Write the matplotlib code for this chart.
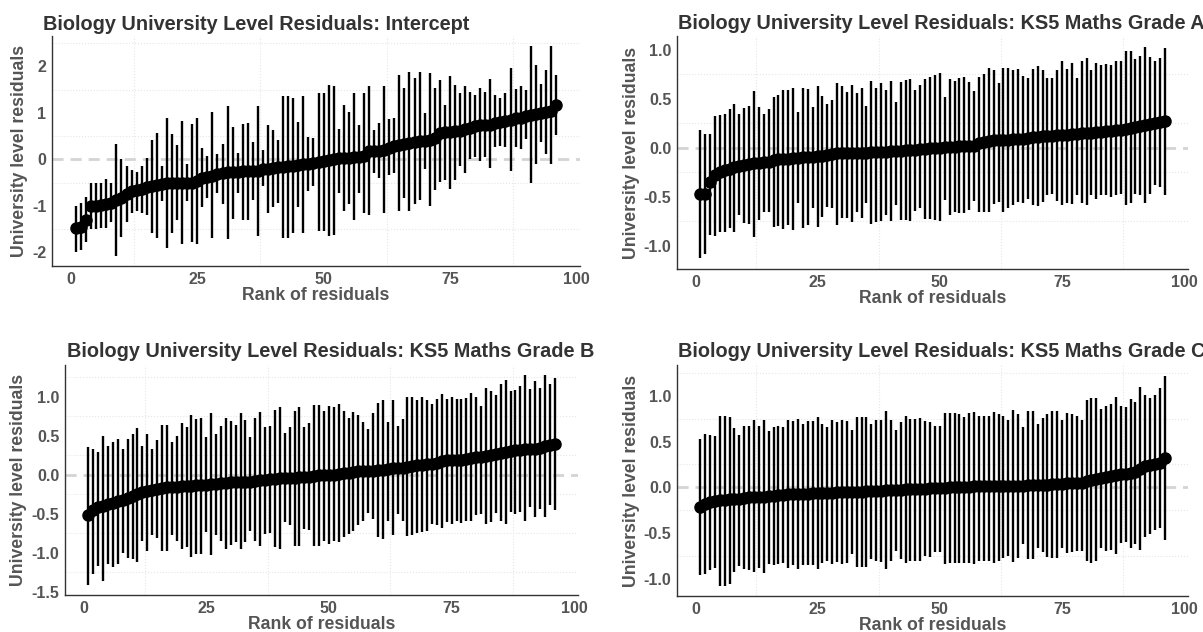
import numpy as np
import matplotlib
matplotlib.use("Agg")
from matplotlib import pyplot as plt
from matplotlib.ticker import MultipleLocator, FormatStrFormatter

# residual estimates per university, sorted, with interval ends
intercept_mid = [
    -1.48, -1.45, -1.3, -1.0, -1.0, -0.98, -0.95, -0.93, -0.88, -0.83,
    -0.75, -0.68, -0.65, -0.63, -0.6, -0.57, -0.55, -0.52, -0.5, -0.5,
    -0.5, -0.5, -0.5, -0.5, -0.47, -0.4, -0.38, -0.35, -0.32, -0.3,
    -0.28, -0.28, -0.27, -0.25, -0.25, -0.24, -0.24, -0.2, -0.2, -0.19,
    -0.17, -0.16, -0.15, -0.14, -0.12, -0.11, -0.1, -0.07, -0.05, -0.04,
    -0.02, 0.0, 0.02, 0.03, 0.04, 0.05, 0.05, 0.08, 0.17, 0.18,
    0.19, 0.2, 0.25, 0.28, 0.3, 0.33, 0.35, 0.38, 0.4, 0.4,
    0.42, 0.45, 0.57, 0.58, 0.58, 0.6, 0.62, 0.65, 0.68, 0.72,
    0.73, 0.74, 0.75, 0.78, 0.8, 0.82, 0.85, 0.88, 0.9, 0.93,
    0.95, 0.97, 1.0, 1.02, 1.05, 1.17]
intercept_hi = [
    -1.0, -0.93, -0.8, -0.5, -0.5, -0.5, -0.42, -0.5, 0.33, 0.0,
    -0.15, -0.23, -0.27, -0.15, 0.04, 0.42, 0.57, -0.15, 0.9, 0.55,
    0.3, 0.82, -0.1, 0.77, 0.9, 0.25, 0.08, 1.02, 0.11, 0.33,
    1.15, 0.7, 0.13, 0.77, 0.78, 0.38, 1.15, 0.2, 0.75, 0.63,
    0.42, 1.36, 1.36, 1.33, 0.8, 1.37, 0.48, 0.47, 1.43, 1.43,
    1.6, 1.58, 0.66, 1.17, 1.03, 1.42, 0.75, 1.43, 1.58, 0.63,
    0.78, 1.58, 0.86, 0.88, 1.82, 1.53, 1.87, 1.75, 1.87, 1.0,
    1.85, 1.53, 1.7, 1.17, 1.8, 1.6, 1.42, 1.58, 1.46, 1.38,
    1.53, 1.46, 1.73, 1.38, 1.32, 1.42, 1.96, 1.52, 1.58, 1.5,
    2.43, 2.03, 1.63, 1.93, 2.43, 1.82]
intercept_lo = [
    -2.0, -1.95, -1.77, -1.5, -1.5, -1.47, -1.47, -1.35, -2.07, -1.67,
    -1.35, -1.15, -1.12, -1.15, -1.2, -1.58, -1.7, -0.9, -1.9, -1.58,
    -1.3, -1.83, -0.9, -1.77, -1.83, -1.02, -0.83, -1.7, -0.73, -0.96,
    -1.72, -1.28, -0.73, -1.3, -1.3, -0.87, -1.65, -0.58, -1.15, -1.02,
    -0.93, -1.7, -1.7, -1.58, -1.02, -1.58, -0.68, -0.58, -1.55, -1.55,
    -1.65, -1.62, -0.72, -1.12, -0.95, -1.3, -0.73, -1.15, -1.2, -0.3,
    -0.4, -1.15, -0.33, -0.3, -1.12, -0.83, -1.12, -0.95, -0.87, -0.2,
    -1.0, -0.65, -0.48, -0.45, -0.63, -0.45, -0.15, -0.3, 0.0, 0.05,
    -0.04, 0.05, -0.19, 0.27, 0.28, 0.27, -0.24, 0.27, 0.23, 0.43,
    -0.5, -0.1, 0.37, 0.11, -0.1, 0.52]

grade_a_mid = [
    -0.47, -0.47, -0.35, -0.28, -0.25, -0.23, -0.22, -0.2, -0.19, -0.18,
    -0.17, -0.16, -0.16, -0.15, -0.15, -0.13, -0.12, -0.12, -0.12, -0.11,
    -0.11, -0.1, -0.1, -0.1, -0.09, -0.09, -0.08, -0.07, -0.06, -0.06,
    -0.06, -0.05, -0.05, -0.05, -0.05, -0.04, -0.04, -0.04, -0.04, -0.03,
    -0.03, -0.03, -0.02, -0.02, -0.02, -0.01, -0.01, 0.0, 0.0, 0.0,
    0.01, 0.01, 0.01, 0.02, 0.02, 0.02, 0.02, 0.05, 0.06, 0.07,
    0.08, 0.08, 0.08, 0.08, 0.09, 0.09, 0.09, 0.1, 0.11, 0.11,
    0.12, 0.12, 0.12, 0.13, 0.13, 0.13, 0.14, 0.14, 0.15, 0.15,
    0.15, 0.16, 0.16, 0.17, 0.17, 0.18, 0.18, 0.19, 0.2, 0.21,
    0.22, 0.23, 0.24, 0.25, 0.26, 0.27]
grade_a_hi = [
    0.18, 0.14, 0.14, 0.32, 0.33, 0.34, 0.39, 0.44, 0.34, 0.4,
    0.42, 0.58, 0.41, 0.34, 0.39, 0.52, 0.54, 0.59, 0.59, 0.61,
    0.36, 0.61, 0.6, 0.41, 0.63, 0.53, 0.44, 0.49, 0.66, 0.63,
    0.57, 0.64, 0.56, 0.61, 0.42, 0.68, 0.61, 0.66, 0.59, 0.68,
    0.46, 0.67, 0.69, 0.7, 0.59, 0.64, 0.7, 0.72, 0.74, 0.76,
    0.52, 0.7, 0.68, 0.71, 0.72, 0.67, 0.58, 0.72, 0.75, 0.81,
    0.79, 0.66, 0.81, 0.81, 0.79, 0.8, 0.73, 0.71, 0.8, 0.83,
    0.79, 0.71, 0.71, 0.79, 0.88, 0.8, 0.86, 0.71, 0.88, 0.91,
    0.79, 0.86, 0.84, 0.85, 0.84, 0.88, 0.88, 0.98, 0.98, 0.9,
    0.93, 1.03, 0.92, 0.88, 0.91, 1.02]
grade_a_lo = [
    -1.13, -1.08, -0.89, -0.9, -0.86, -0.86, -0.82, -0.86, -0.69, -0.77,
    -0.78, -0.91, -0.74, -0.66, -0.66, -0.81, -0.8, -0.83, -0.79, -0.84,
    -0.57, -0.82, -0.79, -0.62, -0.81, -0.71, -0.61, -0.62, -0.79, -0.72,
    -0.72, -0.76, -0.66, -0.72, -0.56, -0.78, -0.76, -0.75, -0.69, -0.75,
    -0.59, -0.74, -0.74, -0.75, -0.65, -0.62, -0.73, -0.73, -0.74, -0.75,
    -0.53, -0.69, -0.66, -0.67, -0.67, -0.64, -0.54, -0.66, -0.66, -0.66,
    -0.58, -0.55, -0.66, -0.62, -0.59, -0.55, -0.56, -0.52, -0.59, -0.6,
    -0.55, -0.48, -0.47, -0.54, -0.59, -0.57, -0.58, -0.48, -0.57, -0.59,
    -0.48, -0.52, -0.48, -0.48, -0.5, -0.48, -0.47, -0.59, -0.57, -0.47,
    -0.48, -0.57, -0.47, -0.38, -0.4, -0.48]

grade_b_mid = [
    -0.52, -0.45, -0.42, -0.4, -0.38, -0.36, -0.34, -0.33, -0.3, -0.28,
    -0.25, -0.23, -0.21, -0.2, -0.19, -0.17, -0.16, -0.16, -0.16, -0.15,
    -0.15, -0.15, -0.14, -0.14, -0.13, -0.12, -0.12, -0.11, -0.11, -0.1,
    -0.1, -0.1, -0.09, -0.09, -0.08, -0.07, -0.07, -0.06, -0.06, -0.05,
    -0.05, -0.04, -0.04, -0.03, -0.03, -0.03, -0.02, -0.01, -0.01, -0.01,
    0.0, 0.01, 0.02, 0.02, 0.03, 0.04, 0.04, 0.05, 0.05, 0.06,
    0.06, 0.07, 0.08, 0.09, 0.09, 0.1, 0.11, 0.12, 0.12, 0.13,
    0.14, 0.15, 0.17, 0.18, 0.18, 0.19, 0.19, 0.2, 0.21, 0.22,
    0.23, 0.24, 0.25, 0.26, 0.28, 0.29, 0.3, 0.31, 0.32, 0.33,
    0.33, 0.33, 0.34, 0.36, 0.38, 0.39]
grade_b_hi = [
    0.35, 0.33, 0.29, 0.5, 0.36, 0.42, 0.46, 0.33, 0.46, 0.52,
    0.6, 0.37, 0.52, 0.33, 0.44, 0.63, 0.63, 0.42, 0.49, 0.66,
    0.61, 0.76, 0.71, 0.72, 0.48, 0.79, 0.52, 0.62, 0.72, 0.69,
    0.64, 0.79, 0.7, 0.48, 0.72, 0.8, 0.61, 0.62, 0.83, 0.86,
    0.53, 0.61, 0.82, 0.86, 0.61, 0.66, 0.89, 0.89, 0.81, 0.88,
    0.86, 0.9, 0.82, 0.72, 0.8, 0.76, 0.67, 0.59, 0.79, 0.92,
    0.95, 0.67, 0.95, 0.62, 0.71, 1.0, 0.99, 0.96, 1.0, 0.96,
    0.9, 0.97, 1.03, 0.97, 1.0, 0.97, 0.97, 0.98, 1.04, 1.0,
    0.88, 1.11, 1.07, 1.02, 1.16, 1.21, 1.07, 1.08, 1.13, 1.27,
    1.09, 1.2, 1.11, 1.27, 1.16, 1.24]
grade_b_lo = [
    -1.41, -1.28, -1.17, -1.36, -1.15, -1.19, -1.15, -1.01, -1.07, -1.08,
    -1.12, -0.85, -0.98, -0.78, -0.81, -0.98, -0.98, -0.78, -0.85, -0.95,
    -0.93, -1.06, -1.02, -1.02, -0.74, -1.03, -0.77, -0.85, -0.95, -0.9,
    -0.87, -0.95, -0.87, -0.72, -0.85, -0.92, -0.76, -0.75, -0.93, -0.95,
    -0.61, -0.65, -0.91, -0.92, -0.7, -0.71, -0.92, -0.91, -0.85, -0.89,
    -0.85, -0.87, -0.8, -0.76, -0.72, -0.65, -0.59, -0.49, -0.57, -0.8,
    -0.82, -0.6, -0.78, -0.5, -0.59, -0.79, -0.77, -0.75, -0.74, -0.72,
    -0.63, -0.65, -0.68, -0.61, -0.64, -0.59, -0.62, -0.59, -0.59, -0.52,
    -0.5, -0.63, -0.61, -0.49, -0.6, -0.64, -0.48, -0.5, -0.48, -0.6,
    -0.42, -0.55, -0.44, -0.55, -0.39, -0.45]

grade_c_mid = [
    -0.21, -0.18, -0.16, -0.15, -0.14, -0.14, -0.13, -0.13, -0.13, -0.12,
    -0.11, -0.1, -0.1, -0.1, -0.09, -0.09, -0.08, -0.08, -0.07, -0.07,
    -0.07, -0.07, -0.07, -0.06, -0.06, -0.06, -0.06, -0.06, -0.05, -0.05,
    -0.05, -0.05, -0.05, -0.05, -0.04, -0.04, -0.04, -0.04, -0.03, -0.03,
    -0.03, -0.03, -0.02, -0.02, -0.02, -0.02, -0.02, -0.01, -0.01, -0.01,
    -0.01, 0.0, 0.0, 0.0, 0.0, 0.0, 0.01, 0.01, 0.01, 0.01,
    0.01, 0.01, 0.02, 0.02, 0.02, 0.02, 0.02, 0.03, 0.03, 0.03,
    0.03, 0.03, 0.04, 0.04, 0.04, 0.05, 0.05, 0.05, 0.05, 0.07,
    0.08, 0.09, 0.1, 0.11, 0.12, 0.14, 0.15, 0.15, 0.16, 0.17,
    0.2, 0.23, 0.24, 0.25, 0.27, 0.32]
grade_c_hi = [
    0.53, 0.58, 0.57, 0.56, 0.78, 0.78, 0.77, 0.65, 0.57, 0.67,
    0.67, 0.73, 0.67, 0.74, 0.62, 0.66, 0.67, 0.66, 0.74, 0.72,
    0.75, 0.69, 0.72, 0.72, 0.77, 0.69, 0.66, 0.73, 0.71, 0.74,
    0.72, 0.63, 0.77, 0.77, 0.77, 0.69, 0.74, 0.73, 0.83, 0.73,
    0.63, 0.71, 0.78, 0.75, 0.75, 0.76, 0.72, 0.71, 0.67, 0.67,
    0.81, 0.81, 0.81, 0.8, 0.77, 0.81, 0.82, 0.78, 0.78, 0.78,
    0.82, 0.8, 0.78, 0.73, 0.84, 0.8, 0.66, 0.83, 0.83, 0.69,
    0.76, 0.8, 0.83, 0.83, 0.73, 0.81, 0.8, 0.78, 0.73, 0.95,
    0.97, 0.97, 0.85, 0.89, 0.91, 0.99, 0.89, 0.88, 0.96, 0.93,
    1.09, 1.01, 0.97, 1.01, 1.08, 1.22]
grade_c_lo = [
    -0.96, -0.94, -0.9, -0.88, -1.07, -1.07, -1.05, -0.92, -0.86, -0.89,
    -0.9, -0.92, -0.88, -0.93, -0.84, -0.85, -0.84, -0.83, -0.88, -0.85,
    -0.89, -0.85, -0.85, -0.85, -0.89, -0.83, -0.8, -0.84, -0.81, -0.84,
    -0.83, -0.73, -0.87, -0.87, -0.87, -0.78, -0.8, -0.81, -0.89, -0.8,
    -0.69, -0.78, -0.83, -0.8, -0.8, -0.8, -0.75, -0.76, -0.71, -0.71,
    -0.84, -0.83, -0.83, -0.83, -0.82, -0.83, -0.84, -0.8, -0.8, -0.8,
    -0.82, -0.8, -0.77, -0.75, -0.81, -0.77, -0.62, -0.78, -0.78, -0.66,
    -0.71, -0.76, -0.77, -0.77, -0.66, -0.72, -0.71, -0.69, -0.69, -0.8,
    -0.82, -0.8, -0.66, -0.69, -0.68, -0.73, -0.61, -0.6, -0.66, -0.62,
    -0.68, -0.54, -0.51, -0.46, -0.44, -0.57]

titles = [
    "Biology University Level Residuals: Intercept",
    "Biology University Level Residuals: KS5 Maths Grade A",
    "Biology University Level Residuals: KS5 Maths Grade B",
    "Biology University Level Residuals: KS5 Maths Grade C",
]
x_ticks = [0, 25, 50, 75, 100]

W, H = 1203, 632


def make_axes(fig, left, top, right, bottom):
    # pixel box -> figure fraction
    return fig.add_axes([left / W, 1 - bottom / H, (right - left) / W, (bottom - top) / H])


def draw_panel(ax, mid, lo, hi, ystep, yfmt):
    rank = np.arange(1, len(mid) + 1)
    ax.axhline(0, color="#d4d4d4", lw=2, ls=(0, (4, 2.5)), zorder=1)
    ax.vlines(rank, lo, hi, color="black", lw=1.7, zorder=2)
    ax.plot(rank, mid, "o", color="black", ms=8, zorder=3)
    ax.margins(x=0.05, y=0.05)

    ax.set_xticks(x_ticks)
    ax.xaxis.set_minor_locator(MultipleLocator(12.5))
    ax.yaxis.set_major_locator(MultipleLocator(ystep))
    ax.yaxis.set_minor_locator(MultipleLocator(ystep / 2))
    ax.yaxis.set_major_formatter(FormatStrFormatter(yfmt))
    ax.grid(False, which="major")
    ax.grid(True, which="minor", color="#e6e6e6", lw=0.8, ls=":")
    ax.set_axisbelow(True)

    for s in ["top", "right"]:
        ax.spines[s].set_visible(False)
    for s in ["left", "bottom"]:
        ax.spines[s].set_color("#333333")
        ax.spines[s].set_linewidth(1.0)
    ax.tick_params(which="both", length=0, pad=4, labelsize=11.5, labelcolor="#555555")
    for lab in ax.get_xticklabels() + ax.get_yticklabels():
        lab.set_fontweight("bold")

    ax.set_xlabel("Rank of residuals", fontsize=12.7, fontweight="bold", color="#555555", labelpad=0)
    ax.set_ylabel("University level residuals", fontsize=12.7, fontweight="bold", color="#555555", labelpad=3)


def main():
    plt.rcParams["font.family"] = ["Liberation Sans", "DejaVu Sans"]
    plt.rcParams["axes.unicode_minus"] = False

    fig = plt.figure(figsize=(W / 100, H / 100), dpi=100)

    ax1 = make_axes(fig, 52, 36, 580, 266)
    ax2 = make_axes(fig, 677, 36, 1188, 269)
    ax3 = make_axes(fig, 65, 365, 578, 595)
    ax4 = make_axes(fig, 677, 365, 1188, 596)

    draw_panel(ax1, intercept_mid, intercept_lo, intercept_hi, 1.0, "%d")
    draw_panel(ax2, grade_a_mid, grade_a_lo, grade_a_hi, 0.5, "%.1f")
    draw_panel(ax3, grade_b_mid, grade_b_lo, grade_b_hi, 0.5, "%.1f")
    draw_panel(ax4, grade_c_mid, grade_c_lo, grade_c_hi, 0.5, "%.1f")

    title_pos = [(43, 30), (678, 29), (67, 357), (678, 357)]
    for t, (x, y) in zip(titles, title_pos):
        fig.text(x / W, 1 - y / H, t, ha="left", va="baseline", fontsize=14.3,
                 fontweight="bold", color="#333333")

    fig.savefig("out.png", dpi=100, facecolor="white")


if __name__ == "__main__":
    main()
